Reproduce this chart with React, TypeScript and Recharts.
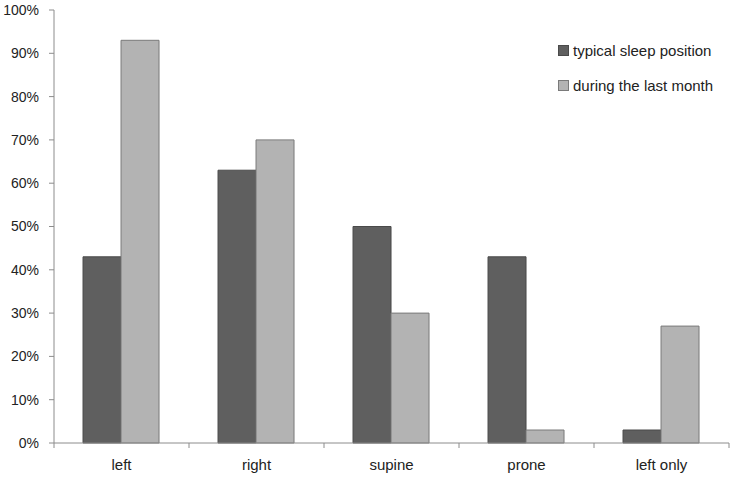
import { BarChart, Bar, XAxis, YAxis } from 'recharts'

const positions = ['left', 'right', 'supine', 'prone', 'left only']
const typical = [43, 63, 50, 43, 3]
const lastMonth = [93, 70, 30, 3, 27]
const yTicks = [0, 10, 20, 30, 40, 50, 60, 70, 80, 90, 100]

const data = positions.map((name, i) => ({
  name,
  typical: typical[i],
  lastMonth: lastMonth[i],
}))

const DARK = '#5f5f5f'
const LIGHT = '#b3b3b3'
const AXIS = '#8c8c8c'
const FONT = '"Liberation Sans", Arial, sans-serif'

function CategoryTick(props: any) {
  const { x, y, payload, index } = props
  const half = 135 / 2
  return (
    <g>
      <line x1={x - half} x2={x - half} y1={y - 8} y2={y - 3} stroke={AXIS} />
      {index === positions.length - 1 && (
        <line x1={x + half} x2={x + half} y1={y - 8} y2={y - 3} stroke={AXIS} />
      )}
      <text x={x} y={y + 19} textAnchor="middle" fill="#222" fontSize={15} fontFamily={FONT}>
        {payload.value}
      </text>
    </g>
  )
}

function LegendBox() {
  const items = [
    { label: 'typical sleep position', color: DARK, stroke: '#4a4a4a' },
    { label: 'during the last month', color: LIGHT, stroke: '#7a7a7a' },
  ]
  return (
    <div
      style={{
        position: 'absolute',
        left: 558,
        top: 33,
        fontFamily: FONT,
        fontSize: 15,
        color: '#222',
      }}
    >
      {items.map((it) => (
        <div key={it.label} style={{ display: 'flex', alignItems: 'center', height: 35 }}>
          <span
            style={{
              display: 'inline-block',
              width: 9,
              height: 9,
              background: it.color,
              border: `1px solid ${it.stroke}`,
              marginRight: 4,
            }}
          />
          {it.label}
        </div>
      ))}
    </div>
  )
}

export default function App() {
  return (
    <div style={{ position: 'absolute', left: 0, top: 0, width: 734, height: 477, background: '#fff' }}>
      <BarChart
        width={734}
        height={477}
        data={data}
        margin={{ top: 10, right: 5, bottom: 4, left: 0 }}
        barCategoryGap="21.5%"
        barGap={0}
      >
        <XAxis
          dataKey="name"
          height={30}
          tickLine={false}
          axisLine={{ stroke: AXIS }}
          tick={<CategoryTick />}
          interval={0}
        />
        <YAxis
          width={54}
          domain={[0, 100]}
          ticks={yTicks}
          tickFormatter={(v: number) => `${v}%`}
          tick={{ fill: '#222', fontSize: 14, fontFamily: FONT }}
          tickLine={{ stroke: AXIS }}
          tickSize={5}
          tickMargin={10}
          axisLine={{ stroke: AXIS }}
        />
        <Bar dataKey="typical" fill={DARK} stroke="#4a4a4a" strokeWidth={1} isAnimationActive={false} />
        <Bar dataKey="lastMonth" fill={LIGHT} stroke="#7a7a7a" strokeWidth={1} isAnimationActive={false} />
      </BarChart>
      <LegendBox />
    </div>
  )
}
